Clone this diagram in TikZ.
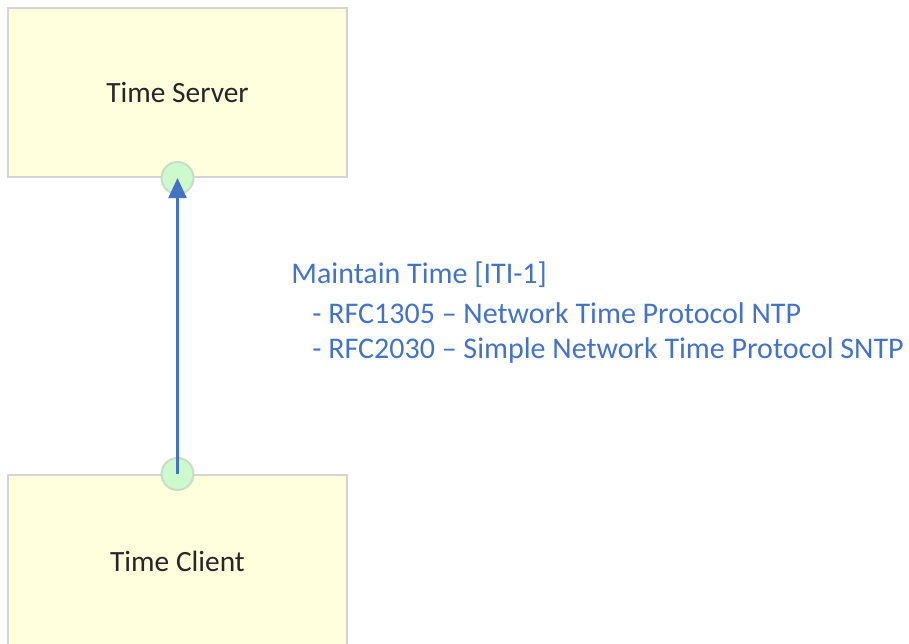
\documentclass[tikz,border=0pt]{standalone}
\usepackage{fontspec}
\setmainfont{Carlito}
\usepackage{xcolor}
\usetikzlibrary{arrows.meta}
\definecolor{boxfill}{HTML}{FFFFDD}
\definecolor{boxline}{HTML}{D4D4D4}
\definecolor{portfill}{HTML}{CCFACC}
\definecolor{portline}{HTML}{C8DCC8}
\definecolor{flowblue}{HTML}{4472C4}
\tikzset{
  sysbox/.style={draw=boxline,line width=1pt,fill=boxfill,minimum width=169.5pt,minimum height=84.5pt,font=\fontsize{14.7}{17}\selectfont,text=black!85},
  port/.style={circle,draw=portline,line width=1pt,fill=portfill,minimum size=16pt,inner sep=0pt},
  flow/.style={draw=flowblue,line width=1.2pt,-{Triangle[length=10pt,width=9pt]}},
  note/.style={anchor=base west,inner sep=0pt,text=flowblue,font=\fontsize{15}{18}\selectfont}
}
\begin{document}
\begin{tikzpicture}[x=0.5pt,y=-0.5pt]
\useasboundingbox (0,0) rectangle (909,643);
\clip (0,0) rectangle (909,643);
\node[sysbox] (server) at (177.5,92.5) {Time Server};
\node[sysbox,minimum height=86pt] (client) at (177.5,561) {Time Client};
\node[port] (sport) at (server.south) {};
\node[port] (cport) at (client.north) {};
\draw[flow] (cport.center) -- (sport.center);
\node[note] (lblA) at (291,283) {Maintain Time [ITI-1]};
\node[note] (lblB) at (312,323) {- RFC1305 -- Network Time Protocol NTP};
\node[note] (lblC) at (312,358) {- RFC2030 -- Simple Network Time Protocol SNTP};
\end{tikzpicture}
\end{document}
